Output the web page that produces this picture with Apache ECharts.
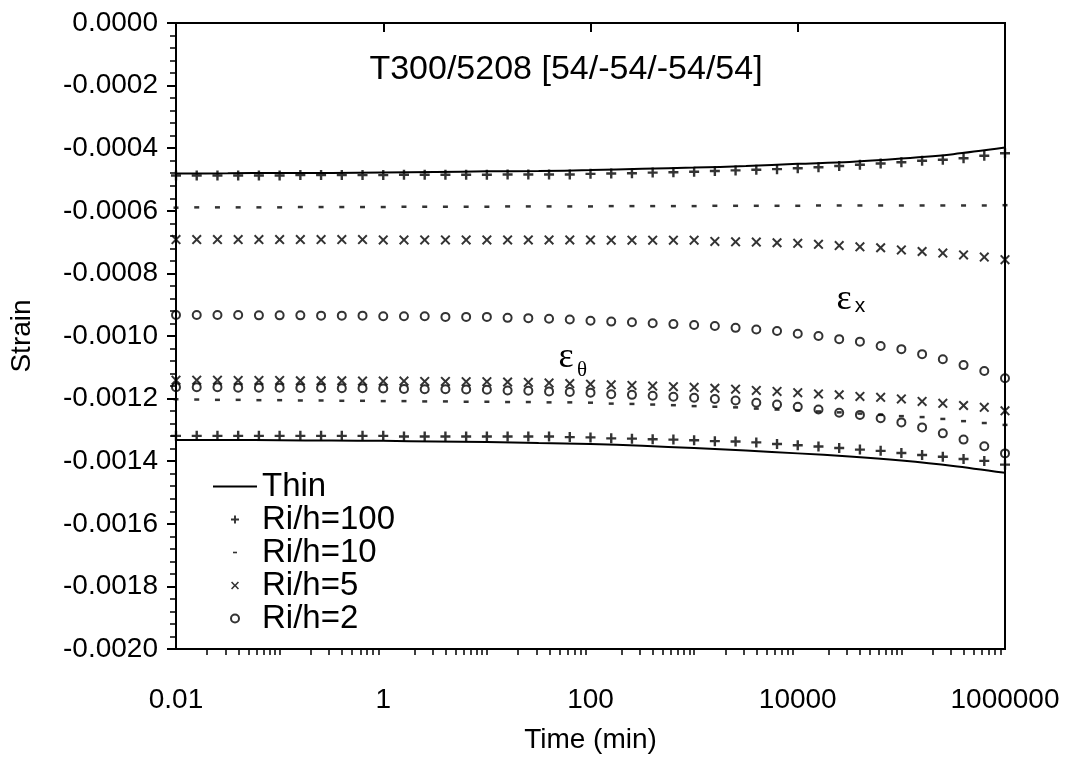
<!DOCTYPE html>
<html>
<head>
<meta charset="utf-8">
<script src="https://cdn.jsdelivr.net/npm/echarts@6/dist/echarts.min.js"></script>
<style>
  html, body { margin: 0; padding: 0; background: #fff; }
  #chart { width: 1068px; height: 758px; }
</style>
</head>
<body>
<div id="chart"></div>
<script>
// Sampling times (min) of the computed solutions, five per decade
const timeGrid = [
  0.01, 0.01585, 0.02512, 0.03981, 0.0631,
  0.1, 0.1585, 0.2512, 0.3981, 0.631,
  1, 1.585, 2.512, 3.981, 6.31,
  10, 15.85, 25.12, 39.81, 63.1,
  100, 158.5, 251.2, 398.1, 631,
  1000, 1585, 2512, 3981, 6310,
  10000, 15850, 25120, 39810, 63100,
  100000, 158500, 251200, 398100, 631000,
  1000000
];

// Thin-shell solution, sampled every half decade
const thinTime = [0.01, 0.0316, 0.1, 0.316, 1, 3.16, 10, 31.6, 100, 316, 1000, 3162, 10000, 31620, 100000, 316200, 1000000];
const thinEx = [-0.000481, -0.000480, -0.000479, -0.000479, -0.000478, -0.000476, -0.000474, -0.000473, -0.000470,
                -0.000466, -0.000462, -0.000457, -0.000450, -0.000444, -0.000433, -0.000419, -0.000398];
const thinEtheta = [-0.001332, -0.001332, -0.001333, -0.001334, -0.001335, -0.001337, -0.001339, -0.001342, -0.001345,
                    -0.001351, -0.001358, -0.001366, -0.001375, -0.001385, -0.001398, -0.001415, -0.001437];

// Axial strain, thick-shell solutions
const r100Ex = [
  -0.000487, -0.000487, -0.000487, -0.000487, -0.000487, -0.000487,
  -0.000486, -0.000486, -0.000486, -0.000486, -0.000486,
  -0.000485, -0.000485, -0.000485, -0.000485, -0.000485,
  -0.000484, -0.000484, -0.000484, -0.000484,
  -0.000482, -0.000481, -0.000480, -0.000478, -0.000477, -0.000475, -0.000473, -0.000471,
  -0.000469, -0.000467, -0.000464, -0.000461, -0.000457, -0.000453, -0.000449, -0.000445,
  -0.000440, -0.000437, -0.000432, -0.000424, -0.000416
];
const r10Ex = [
  -0.000590, -0.000589, -0.000589, -0.000589, -0.000589, -0.000589,
  -0.000588, -0.000588, -0.000588, -0.000588, -0.000588,
  -0.000587, -0.000587, -0.000587, -0.000587, -0.000587,
  -0.000586, -0.000586, -0.000586, -0.000586, -0.000586,
  -0.000585, -0.000585, -0.000585, -0.000585, -0.000585,
  -0.000584, -0.000584, -0.000584, -0.000584, -0.000584,
  -0.000583, -0.000583, -0.000583, -0.000583, -0.000583,
  -0.000583, -0.000583, -0.000583, -0.000583, -0.000582
];
const r5Ex = [
  -0.000692, -0.000692, -0.000692, -0.000692, -0.000692, -0.000692, -0.000692, -0.000692, -0.000692, -0.000692,
  -0.000693, -0.000693, -0.000693, -0.000693, -0.000693, -0.000693, -0.000693, -0.000693, -0.000693, -0.000693, -0.000693,
  -0.000694, -0.000694, -0.000694, -0.000694, -0.000694,
  -0.000698, -0.000699, -0.000700, -0.000702, -0.000704, -0.000707, -0.000711, -0.000715,
  -0.000718, -0.000725, -0.000730, -0.000735, -0.000741, -0.000748, -0.000756
];
const r2Ex = [
  -0.000933, -0.000933, -0.000933, -0.000933,
  -0.000934, -0.000934, -0.000934,
  -0.000935, -0.000935, -0.000935,
  -0.000937, -0.000937, -0.000937,
  -0.000939, -0.000939, -0.000939,
  -0.000942, -0.000943, -0.000945, -0.000947, -0.000951, -0.000954, -0.000956, -0.000959,
  -0.000962, -0.000965, -0.000968, -0.000974, -0.000979, -0.000984, -0.000993, -0.001000,
  -0.001010, -0.001018, -0.001032, -0.001042, -0.001058, -0.001074, -0.001093, -0.001112, -0.001135
];

// Hoop strain, thick-shell solutions
const r100Etheta = [
  -0.001319, -0.001319, -0.001319, -0.001319, -0.001319, -0.001319, -0.001319, -0.001319, -0.001319, -0.001319, -0.001319,
  -0.001321, -0.001321, -0.001321, -0.001321, -0.001321, -0.001321, -0.001321, -0.001321,
  -0.001323, -0.001324, -0.001327, -0.001328, -0.001330, -0.001331, -0.001333, -0.001336,
  -0.001337, -0.001340, -0.001345, -0.001349, -0.001353, -0.001358, -0.001363, -0.001367,
  -0.001374, -0.001380, -0.001386, -0.001393, -0.001399, -0.001411
];
const r10Etheta = [
  -0.001202,
  -0.001203, -0.001204, -0.001204, -0.001205, -0.001205,
  -0.001206, -0.001206, -0.001207, -0.001207, -0.001208,
  -0.001208, -0.001209, -0.001209, -0.001210, -0.001210,
  -0.001211, -0.001211, -0.001212, -0.001212, -0.001213,
  -0.001216, -0.001217, -0.001219, -0.001221, -0.001224, -0.001226, -0.001228, -0.001232,
  -0.001235, -0.001238, -0.001241, -0.001244, -0.001248, -0.001252, -0.001256, -0.001259,
  -0.001265, -0.001272, -0.001278, -0.001284
];
const r5Etheta = [
  -0.001141,
  -0.001141, -0.001141, -0.001142, -0.001142, -0.001142, -0.001143, -0.001143, -0.001143, -0.001144, -0.001144,
  -0.001144, -0.001145, -0.001145, -0.001146, -0.001146, -0.001147, -0.001148, -0.001150, -0.001152, -0.001154,
  -0.001156, -0.001158, -0.001160, -0.001162, -0.001164, -0.001167, -0.001170, -0.001174,
  -0.001177, -0.001181, -0.001185, -0.001188, -0.001193, -0.001196, -0.001201, -0.001209,
  -0.001215, -0.001222, -0.001228, -0.001239
];
const r2Etheta = [
  -0.001164,
  -0.001164, -0.001164, -0.001165, -0.001165, -0.001165,
  -0.001166, -0.001166, -0.001167, -0.001167, -0.001168,
  -0.001169, -0.001170, -0.001170, -0.001171, -0.001172,
  -0.001174, -0.001175, -0.001177, -0.001179, -0.001181,
  -0.001186, -0.001188, -0.001191, -0.001194, -0.001197, -0.001201, -0.001206, -0.001213,
  -0.001219, -0.001226, -0.001235, -0.001245, -0.001252, -0.001263, -0.001276, -0.001292,
  -0.001311, -0.001331, -0.001352, -0.001375
];

// Axis ticks: labelled decades get long ticks, everything else short ones
const xTickLabels = [0.01, 1, 100, 10000, 1000000];
const xMinorTicks = [];
for (let e = -2; e < 6; e++) {
  for (let m = 1; m <= 9; m++) {
    const v = +(m * Math.pow(10, e)).toPrecision(6);
    if (m === 1 && xTickLabels.indexOf(v) >= 0) continue;
    xMinorTicks.push(v);
  }
}

const FONT = 'Liberation Sans, Arial, sans-serif';
const SERIF = 'Liberation Serif, Times New Roman, serif';
const PLUS = 'path://M3.8,0H6.2V3.8H10V6.2H6.2V10H3.8V6.2H0V3.8H3.8Z';
const CROSS = 'path://M0,1.4L1.4,0L5,3.6L8.6,0L10,1.4L6.4,5L10,8.6L8.6,10L5,6.4L1.4,10L0,8.6L3.6,5Z';
const DASH_ICON = 'path://M0,0M10,10M2.5,4H7.5V6H2.5Z';
const LINE_ICON = 'path://M0,0H44V2H0Z';

const pairs = (xs, ys) => xs.map((x, i) => [x, ys[i]]);

function thinSeries(ys) {
  return {
    name: 'Thin', type: 'line', data: pairs(thinTime, ys), smooth: 0.3,
    symbol: 'none', showSymbol: false,
    lineStyle: { color: '#000', width: 2 }, itemStyle: { color: '#000' }, z: 3
  };
}
function markerSeries(name, ys, symbol, size, style) {
  return {
    name, type: 'scatter', data: pairs(timeGrid, ys), symbol, symbolSize: size,
    itemStyle: style || { color: '#000' }, z: 4
  };
}
const ringStyle = { color: 'rgba(0,0,0,0)', borderColor: '#000', borderWidth: 2 };

const chart = echarts.init(document.getElementById('chart'), null, { renderer: 'canvas' });
chart.setOption({
  animation: false,
  backgroundColor: '#fff',
  grid: {
    left: 176, right: 63, top: 23, bottom: 109, outerBoundsMode: 'none', containLabel: false,
    show: true, borderColor: '#000', borderWidth: 2, backgroundColor: 'transparent'
  },
  legend: {
    orient: 'vertical', left: 208, top: 465, itemWidth: 44, itemHeight: 8, itemGap: 0,
    textStyle: { fontFamily: FONT, fontSize: 33, lineHeight: 33, color: '#000' },
    data: [
      { name: 'Thin', icon: LINE_ICON, itemStyle: { color: '#000' } },
      { name: 'Ri/h=100', icon: PLUS },
      { name: 'Ri/h=10', icon: DASH_ICON },
      { name: 'Ri/h=5', icon: CROSS },
      { name: 'Ri/h=2', icon: 'circle' }
    ]
  },
  xAxis: [
    {
      type: 'log', logBase: 10, min: 0.01, max: 1000000, position: 'bottom',
      name: 'Time (min)', nameLocation: 'middle', nameGap: 77,
      nameTextStyle: { fontFamily: FONT, fontSize: 28, color: '#000' },
      axisLine: { show: true, lineStyle: { color: '#000', width: 2 } },
      axisTick: { show: true, customValues: xTickLabels, length: 9, lineStyle: { color: '#000', width: 2 } },
      axisLabel: {
        customValues: xTickLabels, margin: 37, fontFamily: FONT, fontSize: 28, color: '#000',
        formatter: v => String(+(+v).toPrecision(6))
      },
      splitLine: { show: false }
    },
    {
      type: 'log', logBase: 10, min: 0.01, max: 1000000, position: 'bottom',
      axisLine: { show: false },
      axisTick: { show: true, customValues: xMinorTicks, length: 6, lineStyle: { color: '#000', width: 1.5 } },
      axisLabel: { show: false },
      splitLine: { show: false }
    }
  ],
  yAxis: {
    type: 'value', min: -0.002, max: 0, interval: 0.0002,
    name: 'Strain', nameLocation: 'middle', nameGap: 140, nameRotate: 90,
    nameTextStyle: { fontFamily: FONT, fontSize: 28, color: '#000' },
    axisLine: { show: true, lineStyle: { color: '#000', width: 2 } },
    axisTick: { show: true, length: 9, lineStyle: { color: '#000', width: 2 } },
    minorTick: { show: true, splitNumber: 5, length: 6, lineStyle: { color: '#000', width: 1.5 } },
    axisLabel: { margin: 18, fontFamily: FONT, fontSize: 28, color: '#000', formatter: v => (Math.abs(v) < 1e-12 ? 0 : v).toFixed(4) },
    splitLine: { show: false },
    minorSplitLine: { show: false }
  },
  graphic: [
    { type: 'text', x: 566, y: 70, style: { text: 'T300/5208 [54/-54/-54/54]', font: '34px ' + FONT, fill: '#000', align: 'center', verticalAlign: 'middle' } },
    { type: 'text', x: 844, y: 300, style: { text: 'ε', font: '36px ' + SERIF, fill: '#000', align: 'center', verticalAlign: 'middle' } },
    { type: 'text', x: 860, y: 306, style: { text: 'x', font: '21px ' + FONT, fill: '#000', align: 'center', verticalAlign: 'middle' } },
    { type: 'text', x: 566, y: 358, style: { text: 'ε', font: '36px ' + SERIF, fill: '#000', align: 'center', verticalAlign: 'middle' } },
    { type: 'text', x: 582, y: 370, style: { text: 'θ', font: '21px ' + SERIF, fill: '#000', align: 'center', verticalAlign: 'middle' } }
  ],
  series: [
    thinSeries(thinEx),
    thinSeries(thinEtheta),
    markerSeries('Ri/h=100', r100Ex, PLUS, 10),
    markerSeries('Ri/h=100', r100Etheta, PLUS, 10),
    markerSeries('Ri/h=10', r10Ex, 'rect', [5, 2.5]),
    markerSeries('Ri/h=10', r10Etheta, 'rect', [5, 2.5]),
    markerSeries('Ri/h=5', r5Ex, CROSS, 10),
    markerSeries('Ri/h=5', r5Etheta, CROSS, 10),
    markerSeries('Ri/h=2', r2Ex, 'circle', 8, ringStyle),
    markerSeries('Ri/h=2', r2Etheta, 'circle', 8, ringStyle)
  ]
});
</script>
</body>
</html>
